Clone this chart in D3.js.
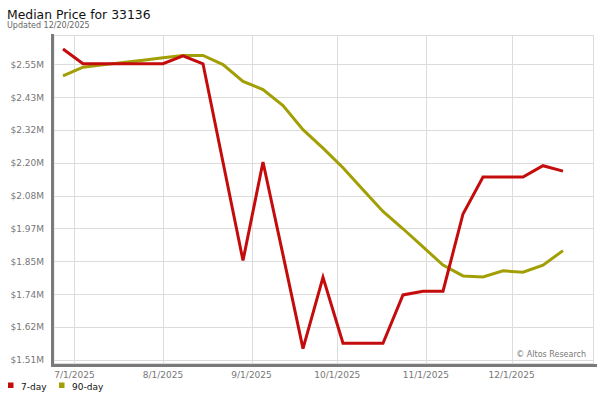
<!DOCTYPE html>
<html>
<head>
<meta charset="utf-8">
<script src="https://cdn.jsdelivr.net/npm/d3@7"></script>
<style>
html,body{margin:0;padding:0;background:#fff;}
svg{display:block;font-family:"DejaVu Sans",Verdana,sans-serif;}
</style>
</head>
<body>
<svg id="chart" width="600" height="400"></svg>
<script>
const weeks = ["2025-06-27","2025-07-04","2025-07-11","2025-07-18","2025-07-25","2025-08-01","2025-08-08","2025-08-15","2025-08-22","2025-08-29","2025-09-05","2025-09-12","2025-09-19","2025-09-26","2025-10-03","2025-10-10","2025-10-17","2025-10-24","2025-10-31","2025-11-07","2025-11-14","2025-11-21","2025-11-28","2025-12-05","2025-12-12","2025-12-19"];
const day7 = [2.604,2.552,2.552,2.552,2.552,2.552,2.580,2.552,2.205,1.859,2.206,1.879,1.549,1.800,1.568,1.568,1.568,1.738,1.751,1.751,2.023,2.153,2.153,2.153,2.193,2.174];
const day90 = [2.509,2.540,2.548,2.556,2.564,2.573,2.581,2.581,2.549,2.490,2.461,2.405,2.320,2.255,2.186,2.108,2.032,1.971,1.907,1.843,1.805,1.801,1.823,1.818,1.843,1.894];
const yTickLabels = ["$1.51M","$1.62M","$1.74M","$1.85M","$1.97M","$2.08M","$2.20M","$2.32M","$2.43M","$2.55M"];
const xTickDates = ["2025-07-01","2025-08-01","2025-09-01","2025-10-01","2025-11-01","2025-12-01"];
const xTickLabels = ["7/1/2025","8/1/2025","9/1/2025","10/1/2025","11/1/2025","12/1/2025"];
const seriesNames = ["7-day","90-day"];
const seriesColors = ["#c40c0c","#a29f05"];

(function(){
const parse = d3.timeParse("%Y-%m-%d");
const dates = weeks.map(parse);
const svg = d3.select("#chart");

const pL = 54, pR = 594, pT = 35, pB = 363;
const x = d3.scaleTime().domain([dates[0], dates[dates.length-1]]).range([63, 563]);
const yMin = 1.51, yMax = 2.55;
const y = d3.scaleLinear().domain([yMin, yMax]).range([359.7, 64.3]);
const yTicks = d3.range(10).map(i => yMin + i*(yMax-yMin)/9);

svg.append("text").attr("x",7).attr("y",19).attr("font-size","12.4px").attr("fill","#111").text("Median Price for 33136");
svg.append("text").attr("x",7).attr("y",27.5).attr("font-size","8px").attr("fill","#666").text("Updated 12/20/2025");

svg.append("rect").attr("x",pL).attr("y",pT+0.5).attr("width",pR-pL-0.5).attr("height",pB-pT)
  .attr("fill","none").attr("stroke","#dcdcdc").attr("stroke-width",1);

svg.append("g").selectAll("line").data(yTicks).join("line")
  .attr("x1",pL).attr("x2",pR).attr("y1",d=>Math.round(y(d))+0.5).attr("y2",d=>Math.round(y(d))+0.5)
  .attr("stroke","#dcdcdc").attr("stroke-width",1);
const xt = xTickDates.map(parse);
svg.append("g").selectAll("line").data(xt).join("line")
  .attr("x1",d=>Math.round(x(d))+0.5).attr("x2",d=>Math.round(x(d))+0.5).attr("y1",pT).attr("y2",pB)
  .attr("stroke","#dcdcdc").attr("stroke-width",1);

svg.append("g").selectAll("text").data(yTicks).join("text")
  .attr("x",44).attr("y",d=>y(d)+3.5).attr("text-anchor","end").attr("font-size","9px").attr("fill","#777")
  .text((d,i)=>yTickLabels[i]);
svg.append("g").selectAll("text").data(xt).join("text")
  .attr("x",d=>x(d)).attr("y",378).attr("text-anchor","middle").attr("font-size","9px").attr("fill","#777")
  .text((d,i)=>xTickLabels[i]);

svg.append("rect").attr("x",51).attr("y",34).attr("width",3).attr("height",333).attr("fill","#7a7a7a");
svg.append("rect").attr("x",51).attr("y",364).attr("width",546).attr("height",3).attr("fill","#7a7a7a");

svg.append("text").attr("x",586).attr("y",357).attr("text-anchor","end").attr("font-size","8px").attr("fill","#777").text("© Altos Research");

const line = d3.line().x((d,i)=>x(dates[i])).y(d=>y(d));
svg.append("path").datum(day90).attr("d",line).attr("fill","none")
  .attr("stroke",seriesColors[1]).attr("stroke-width",3);
svg.append("path").datum(day7).attr("d",line).attr("fill","none")
  .attr("stroke",seriesColors[0]).attr("stroke-width",3);

const legX = [8, 59];
seriesNames.forEach((n,i)=>{
  svg.append("rect").attr("x",legX[i]).attr("y",382.5).attr("width",5.5).attr("height",5.5).attr("fill",seriesColors[i]);
  svg.append("text").attr("x",legX[i]+13).attr("y",390).attr("font-size","9px").attr("fill","#111").text(n);
});
})();
</script>
</body>
</html>
